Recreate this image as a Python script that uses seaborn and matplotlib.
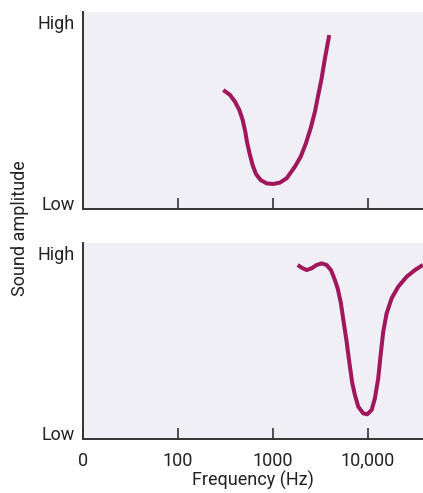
import matplotlib
matplotlib.use("Agg")
import matplotlib.pyplot as plt
import seaborn as sns
import pandas as pd

# ---- data ----
top_freq = [300, 353, 398, 442, 480, 511, 536, 573, 611, 662, 742, 859,
            1007, 1185, 1394, 1704, 1957, 2225, 2494, 2768, 2998, 3254,
            3527, 3914]
top_amp = [0.604, 0.579, 0.545, 0.503, 0.452, 0.392, 0.334, 0.274, 0.223,
           0.178, 0.147, 0.130, 0.127, 0.134, 0.156, 0.215, 0.265, 0.334,
           0.410, 0.494, 0.579, 0.663, 0.765, 0.883]

bottom_freq = [1820, 2006, 2263, 2555, 2884, 3254, 3675, 4078, 4419, 4799,
               5196, 5549, 5968, 6357, 6833, 7297, 7907, 8924, 9831, 10938,
               11851, 12838, 13607, 14490, 15735, 17764, 20844, 25547,
               31247, 37917]
bottom_amp = [0.888, 0.874, 0.862, 0.871, 0.888, 0.896, 0.888, 0.862, 0.820,
              0.769, 0.692, 0.598, 0.496, 0.394, 0.286, 0.224, 0.165, 0.131,
              0.126, 0.148, 0.208, 0.310, 0.429, 0.547, 0.641, 0.718, 0.777,
              0.828, 0.862, 0.888]

xtick_values = [10, 100, 1000, 10000]
xtick_labels = ["0", "100", "1000", "10,000"]
ytick_values = [0.03, 0.95]
ytick_labels = ["Low", "High"]
x_label = "Frequency (Hz)"
y_label = "Sound amplitude"

# ---- style ----
sns.set_theme(style="white")
plt.rcParams["font.family"] = ["Roboto", "DejaVu Sans"]

LINE = "#a0175c"
BG = "#f0eff6"
SPINE = "#333333"
TXT = "#222222"
FS = 13

W, H = 423, 493
fig = plt.figure(figsize=(W / 100, H / 100), dpi=100)

ax_top = fig.add_axes([83 / W, 1 - 209 / H, (W - 83) / W, 197 / H])
ax_bot = fig.add_axes([83 / W, 1 - 439 / H, (W - 83) / W, 196 / H])

panels = [(ax_top, top_freq, top_amp), (ax_bot, bottom_freq, bottom_amp)]
for ax, fx, fy in panels:
    df = pd.DataFrame({"freq": fx, "amp": fy})
    ax.set_facecolor(BG)
    sns.lineplot(data=df, x="freq", y="amp", ax=ax, color=LINE,
                 linewidth=2.9, sort=False, estimator=None,
                 solid_capstyle="butt", solid_joinstyle="round")
    ax.set_xscale("log")
    ax.set_xlim(10, 38000)
    ax.set_ylim(0, 1)
    for side in ["top", "right"]:
        ax.spines[side].set_visible(False)
    for side in ["left", "bottom"]:
        ax.spines[side].set_color(SPINE)
        ax.spines[side].set_linewidth(1.4)
    ax.set_yticks(ytick_values)
    ax.set_yticklabels(ytick_labels, fontsize=FS, color=TXT)
    ax.tick_params(axis="y", length=0, pad=6)
    ax.minorticks_off()
    ax.set_xlabel("")
    ax.set_ylabel("")

ax_top.set_xticks(xtick_values[1:])
ax_top.set_xticklabels([])
ax_top.tick_params(axis="x", direction="in", length=8, width=1.2,
                   color=SPINE, bottom=True)

ax_bot.set_xticks(xtick_values)
ax_bot.set_xticklabels(xtick_labels, fontsize=FS, color=TXT)
ax_bot.tick_params(axis="x", direction="in", length=8, width=1.2,
                   color=SPINE, bottom=True, pad=9)
ax_bot.set_xlabel(x_label, fontsize=FS, color=TXT, labelpad=1)

fig.text(20 / W, 1 - 228 / H, y_label, rotation=90, ha="center",
         va="center", fontsize=FS, color=TXT)

fig.savefig("out.png", dpi=100, facecolor="white")
